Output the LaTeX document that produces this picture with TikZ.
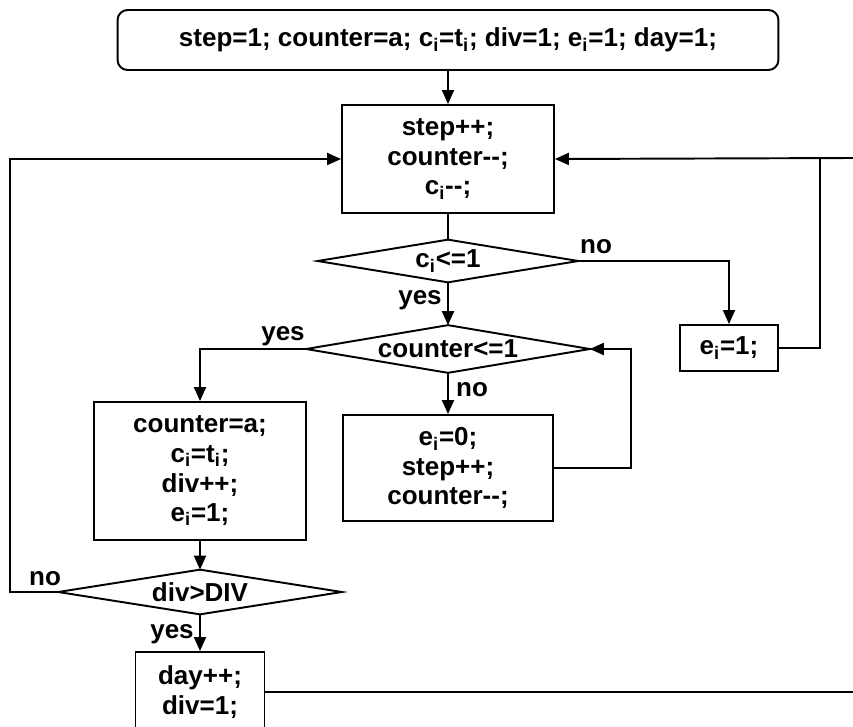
\documentclass[tikz,border=0pt]{standalone}
\usepackage{fontspec}
\setmainfont{Liberation Sans}
\usetikzlibrary{arrows.meta}
\begin{document}
\begin{tikzpicture}[x=0.02cm,y=-0.02cm,
  font=\bfseries\fontsize{14.8pt}{16.8pt}\selectfont,
  ln/.style={line width=1.1pt},
  arr/.style={ln,-{Triangle[length=0.28cm,width=0.24cm]}},
  box/.style={draw,ln,rectangle,align=center,inner sep=0pt},
  dia/.style={rectangle,inner sep=0pt},
  lbl/.style={inner sep=0pt}]
\useasboundingbox (0,0) rectangle (853,727);
\clip (0,0) rectangle (853,727);
\fill[white] (0,0) rectangle (853,727);
% nodes
\node[box,rounded corners=0.2cm,minimum width=13.22cm,minimum height=1.2cm] (top) at (448,40)
  {step=1; counter=a; c\textsubscript{i}=t\textsubscript{i}; div=1; e\textsubscript{i}=1; day=1;};
\node[box,minimum width=4.24cm,minimum height=2.16cm] (step) at (448,159)
  {step++;\\counter-{}-;\\c\textsubscript{i}-{}-;};
\node[dia,minimum width=5.2cm,minimum height=0.84cm] (ci) at (448,261) {c\textsubscript{i}<=1};
\node[box,minimum width=1.96cm,minimum height=0.92cm] (eione) at (729,348) {e\textsubscript{i}=1;};
\node[dia,minimum width=5.66cm,minimum height=0.94cm] (cnt) at (448,349) {counter<=1};
\node[box,minimum width=4.24cm,minimum height=2.76cm] (cnta) at (200,471)
  {counter=a;\\c\textsubscript{i}=t\textsubscript{i};\\div++;\\e\textsubscript{i}=1;};
\node[box,minimum width=4.2cm,minimum height=2.12cm] (eizero) at (448,468)
  {e\textsubscript{i}=0;\\step++;\\counter-{}-;};
\node[dia,minimum width=5.66cm,minimum height=0.88cm] (dv) at (200,592) {div>DIV};
\node[box,minimum width=2.58cm,minimum height=1.6cm] (day) at (200,692)
  {day++;\\div=1;};
% diamonds
\foreach \d in {ci,cnt,dv}
  \draw[ln,line join=miter] (\d.west) -- (\d.north) -- (\d.east) -- (\d.south) -- cycle;
% labels
\node[lbl] (l1) at (596,247) {no};
\node[lbl] (l2) at (420,300) {yes};
\node[lbl] (l3) at (283,336) {yes};
\node[lbl] (l4) at (472,390) {no};
\node[lbl] (l5) at (45,579) {no};
\node[lbl] (l6) at (172,634) {yes};
% coordinates
\coordinate (redge) at (853,158);
\coordinate (rj) at (820,158);
\coordinate (lc) at (10,592);
\coordinate (c2) at (631,468);
\coordinate (dr) at (853,692);
% connectors
\draw[arr] (top.south) -- (step.north);
\draw[ln] (step.south) -- (ci.north);
\draw[arr] (ci.south) -- (cnt.north);
\draw[arr] (ci.east) -| (eione.north);
\draw[ln] (eione.east) -| (rj);
\draw[arr] (redge) -- (step.east);
\draw[arr] (cnt.west) -| (cnta.north);
\draw[arr] (cnt.south) -- (eizero.north);
\draw[arr] (eizero.east) -- (c2) |- (cnt.east);
\draw[arr] (cnta.south) -- (dv.north);
\draw[arr] (dv.west) -- (lc) |- (step.west);
\draw[arr] (dv.south) -- (day.north);
\draw[ln] (day.east) -- (dr);
\end{tikzpicture}
\end{document}
